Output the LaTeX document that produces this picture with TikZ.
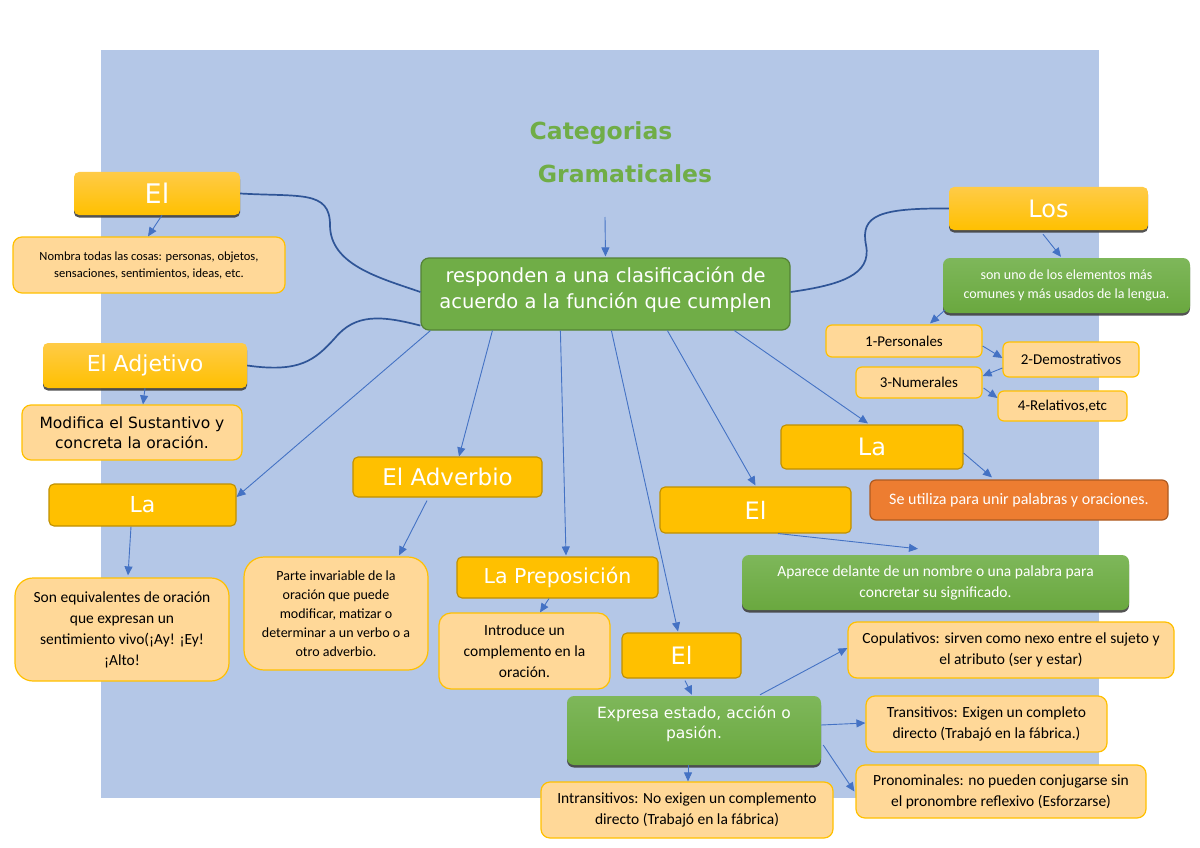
\documentclass[tikz,border=0pt]{standalone}
\usepackage{fontspec}
\setmainfont{Carlito}
\newfontfamily\dv{DejaVu Sans}
\usetikzlibrary{arrows.meta,shadows}
\definecolor{bgblue}{HTML}{B4C7E7}
\definecolor{hdrF}{HTML}{FFC000}
\definecolor{hdrB}{HTML}{BF9000}
\definecolor{hdrTop}{HTML}{FFCB47}
\definecolor{ltF}{HTML}{FFD898}
\definecolor{ltB}{HTML}{FFC000}
\definecolor{grF}{HTML}{70AD47}
\definecolor{grB}{HTML}{548235}
\definecolor{grTop}{HTML}{7EB75A}
\definecolor{grBot}{HTML}{6AA83F}
\definecolor{orF}{HTML}{ED7D31}
\definecolor{orB}{HTML}{AE5A21}
\definecolor{arr}{HTML}{4472C4}
\definecolor{curv}{HTML}{2F5597}
\tikzset{
  hdr/.style={rounded corners=5pt, draw=hdrB, fill=hdrF, line width=1.1pt, text=white, inner sep=0pt},
  hdrg/.style={rounded corners=5pt, draw=none, top color=hdrTop, bottom color=hdrF, text=white, inner sep=0pt,
     drop shadow={shadow xshift=0pt, shadow yshift=-2.5pt, fill=black!75, opacity=0.9}},
  grg/.style={rounded corners=7pt, draw=none, top color=grTop, bottom color=grBot, text=white, inner sep=0pt, align=center,
     drop shadow={shadow xshift=0pt, shadow yshift=-2.5pt, fill=black!75, opacity=0.9}},
  lt/.style={rounded corners=9pt, draw=ltB, fill=ltF, line width=1.2pt, text=black, inner sep=0pt, align=center},
  ttl/.style={text=grF, font=\dv\bfseries\fontsize{23.5}{28}\selectfont, inner sep=0pt},
  ar/.style={draw=arr, line width=0.9pt, -{Triangle[length=9pt,width=8pt]}},
  cv/.style={draw=curv, line width=1.7pt},
}
\newcommand{\cf}[2]{\fontsize{#1}{#2}\selectfont}
\begin{document}
\begin{tikzpicture}[x=1pt,y=-1pt]
\useasboundingbox (0,0) rectangle (1200,848);
\fill[bgblue] (101,50) rectangle (1099,798);

% title
\node[ttl] (t1) at (601,133) {Categorias};
\node[ttl] (t2) at (625,174) {Gramaticales};
\coordinate (tarr) at (605,217);

% central
\node[rounded corners=8pt, draw=grB, fill=grF, line width=1.2pt, minimum width=369pt, minimum height=72pt, inner sep=0pt] (c) at (605.5,294) {};
\node[text=white, align=center, font=\dv\cf{19.5}{26}, inner sep=0pt] (ct) at ([yshift=4pt]c.center) {responden a una clasificación de\\acuerdo a la función que cumplen};

% left column
\node[hdrg, minimum width=166pt, minimum height=43pt, font=\dv\cf{27}{30}] (el1) at (157,193.5) {El};
\node[lt, minimum width=272pt, minimum height=56pt, font=\cf{12.5}{17}] (n1) at (149,265) {Nombra todas las cosas: personas, objetos,\\sensaciones, sentimientos, ideas, etc.};
\node[hdrg, minimum width=204pt, minimum height=45pt, font=\dv\cf{22}{26}] (adj) at (145,365.5) {El Adjetivo};
\node[lt, minimum width=220pt, minimum height=55pt, font=\dv\cf{15.5}{20}] (n2) at (132,432.5) {Modifica el Sustantivo y\\concreta la oración.};
\node[hdr, minimum width=187pt, minimum height=42pt, font=\dv\cf{22}{26}] (la1) at (142.5,505) {La};
\node[lt, rounded corners=18pt, minimum width=214pt, minimum height=103pt, font=\cf{15.5}{21}] (n3) at (122,629.5) {Son equivalentes de oración\\que expresan un\\sentimiento vivo(¡Ay! ¡Ey!\\¡Alto!};

% middle
\node[hdr, minimum width=189pt, minimum height=40pt, font=\dv\cf{23}{26}] (adv) at (447.5,477) {El Adverbio};
\node[lt, rounded corners=20pt, minimum width=184pt, minimum height=113pt, font=\cf{14}{19}] (n4) at (336,613.5) {Parte invariable de la\\oración que puede\\modificar, matizar o\\determinar a un verbo o a\\otro adverbio.};
\node[hdr, minimum width=201pt, minimum height=41pt, font=\dv\cf{20.5}{24}] (prep) at (557.5,577.5) {La Preposición};
\node[lt, rounded corners=12pt, minimum width=171pt, minimum height=76pt, font=\cf{15.5}{21}] (n5) at (524.5,651) {Introduce un\\complemento en la\\oración.};
\node[hdr, minimum width=119pt, minimum height=45pt, font=\dv\cf{24}{28}] (el2) at (681.5,655.5) {El};
\node[grg, minimum width=254pt, minimum height=69pt] (g2) at (694,730.5) {};
\node[text=white, align=center, font=\dv\cf{15.5}{20}, inner sep=0pt] (g2t) at ([yshift=7pt]g2.center) {Expresa estado, acción o\\pasión.};
\node[lt, minimum width=292pt, minimum height=56pt, font=\cf{15.5}{21}] (n6) at (687,810) {Intransitivos: No exigen un complemento\\directo (Trabajó en la fábrica)};

% right
\node[lt, minimum width=326pt, minimum height=56pt, font=\cf{15.5}{21}] (n7) at (1011,650) {Copulativos: sirven como nexo entre el sujeto y\\el atributo (ser y estar)};
\node[lt, minimum width=241pt, minimum height=56pt, font=\cf{15.5}{21}] (n8) at (986.5,724) {Transitivos: Exigen un completo\\directo (Trabajó en la fábrica.)};
\node[lt, minimum width=290pt, minimum height=53pt, font=\cf{15.5}{21}] (n9) at (1001,791.5) {Pronominales: no pueden conjugarse sin\\el pronombre reflexivo (Esforzarse)};
\node[hdr, minimum width=191pt, minimum height=46pt, font=\dv\cf{24}{28}] (el3) at (755.5,510) {El};
\node[grg, minimum width=387pt, minimum height=55pt, font=\cf{15.5}{21}] (g3) at (935.5,582.5) {Aparece delante de un nombre o una palabra para\\concretar su significado.};
\node[hdr, minimum width=182pt, minimum height=44pt, font=\dv\cf{24}{28}] (la2) at (872,447) {La};
\node[rounded corners=6pt, draw=orB, fill=orF, line width=1.2pt, text=white, inner sep=0pt, minimum width=298pt, minimum height=40pt, font=\cf{16}{21}] (o1) at (1019,500) {Se utiliza para unir palabras y oraciones.};
\node[hdrg, minimum width=199pt, minimum height=43pt, font=\dv\cf{24}{28}] (los) at (1048.5,208.5) {Los};
\node[grg, minimum width=247pt, minimum height=55pt, font=\cf{14}{19}] (g1) at (1066.5,285.5) {son uno de los elementos más\\comunes y más usados de la lengua.};
\node[lt, rounded corners=6pt, minimum width=156pt, minimum height=32pt, font=\cf{15}{20}] (p1) at (904,341) {1-Personales};
\node[lt, rounded corners=6pt, minimum width=136pt, minimum height=35pt, font=\cf{15}{20}] (p2) at (1071,359.5) {2-Demostrativos};
\node[lt, rounded corners=6pt, minimum width=126pt, minimum height=31pt, font=\cf{15}{20}] (p3) at (919,382.5) {3-Numerales};
\node[lt, rounded corners=6pt, minimum width=129pt, minimum height=30pt, font=\cf{15}{20}] (p4) at (1062.5,406) {4-Relativos,etc};

% curved connectors
\draw[cv] (el1.east) .. controls (300,197) and (330,190) .. (330,225) .. controls (330,265) and (380,278) .. ([yshift=2pt]c.west);
\draw[cv] (adj.east) .. controls (300,373) and (315,360) .. (335,338) .. controls (355,314) and (380,315) .. ([yshift=5pt]c.south west);
\draw[cv] (los.west) .. controls (880,208) and (860,215) .. (866,245) .. controls (872,275) and (840,285) .. ([yshift=2pt]c.east);

% arrows
\draw[ar] (tarr) -- ([yshift=1pt]c.north);
\draw[ar] ([xshift=5pt]el1.south) -- ([xshift=-1pt]n1.north);
\draw[ar] (adj.south) -- ([xshift=11pt]n2.north);
\draw[ar] ([xshift=10pt]c.south west) -- ([yshift=8pt]la1.east);
\draw[ar] ([xshift=-11.5pt]la1.south) -- ([xshift=6pt,yshift=2pt]n3.north);
\draw[ar] ([xshift=72pt]c.south west) -- ([xshift=11.5pt]adv.north);
\draw[ar] ([xshift=-20.5pt,yshift=-3pt]adv.south) -- ([xshift=63pt,yshift=1pt]n4.north);
\draw[ar] ([xshift=140pt]c.south west) -- ([xshift=8.5pt,yshift=1pt]prep.north);
\draw[ar] ([xshift=-8.5pt]prep.south) -- ([xshift=15.5pt]n5.north);
\draw[ar] ([xshift=191pt]c.south west) -- ([xshift=-3.5pt,yshift=1pt]el2.north);
\draw[ar] ([xshift=3.5pt,yshift=-2pt]el2.south) -- ([xshift=-2pt,yshift=1pt]g2.north);
\draw[ar] ([xshift=-6pt]g2.south) -- ([xshift=1pt]n6.north);
\draw[ar] ([xshift=66pt,yshift=1pt]g2.north) -- ([yshift=2pt]n7.west);
\draw[ar] ([yshift=5.5pt]g2.east) -- ([yshift=1pt]n8.west);
\draw[ar] ([xshift=2pt,yshift=-14.5pt]g2.east) -- ([xshift=-1pt]n9.west);
\draw[ar] ([xshift=247pt]c.south west) -- ([yshift=1pt]el3.north);
\draw[ar] ([xshift=22.5pt]el3.south) -- ([xshift=-17.5pt,yshift=6pt]g3.north);
\draw[ar] ([xshift=314pt]c.south west) -- ([xshift=-4pt,yshift=1pt]la2.north);
\draw[ar] ([yshift=-6pt]la2.east) -- ([xshift=-27pt,yshift=2pt]o1.north);
\draw[ar] ([xshift=-5.5pt,yshift=-4pt]los.south) -- ([xshift=-5.5pt,yshift=1pt]g1.north);
\draw[ar] ([xshift=2pt,yshift=3pt]g1.south west) -- ([xshift=26pt,yshift=1pt]p1.north);
\draw[ar] ([yshift=-5pt]p1.east) -- ([yshift=1.5pt]p2.west);
\draw[ar] ([yshift=-8.5pt]p2.west) -- ([yshift=6.5pt]p3.east);
\draw[ar] ([xshift=1pt,yshift=-5.5pt]p3.east) -- ([yshift=8pt]p4.west);
\end{tikzpicture}
\end{document}
